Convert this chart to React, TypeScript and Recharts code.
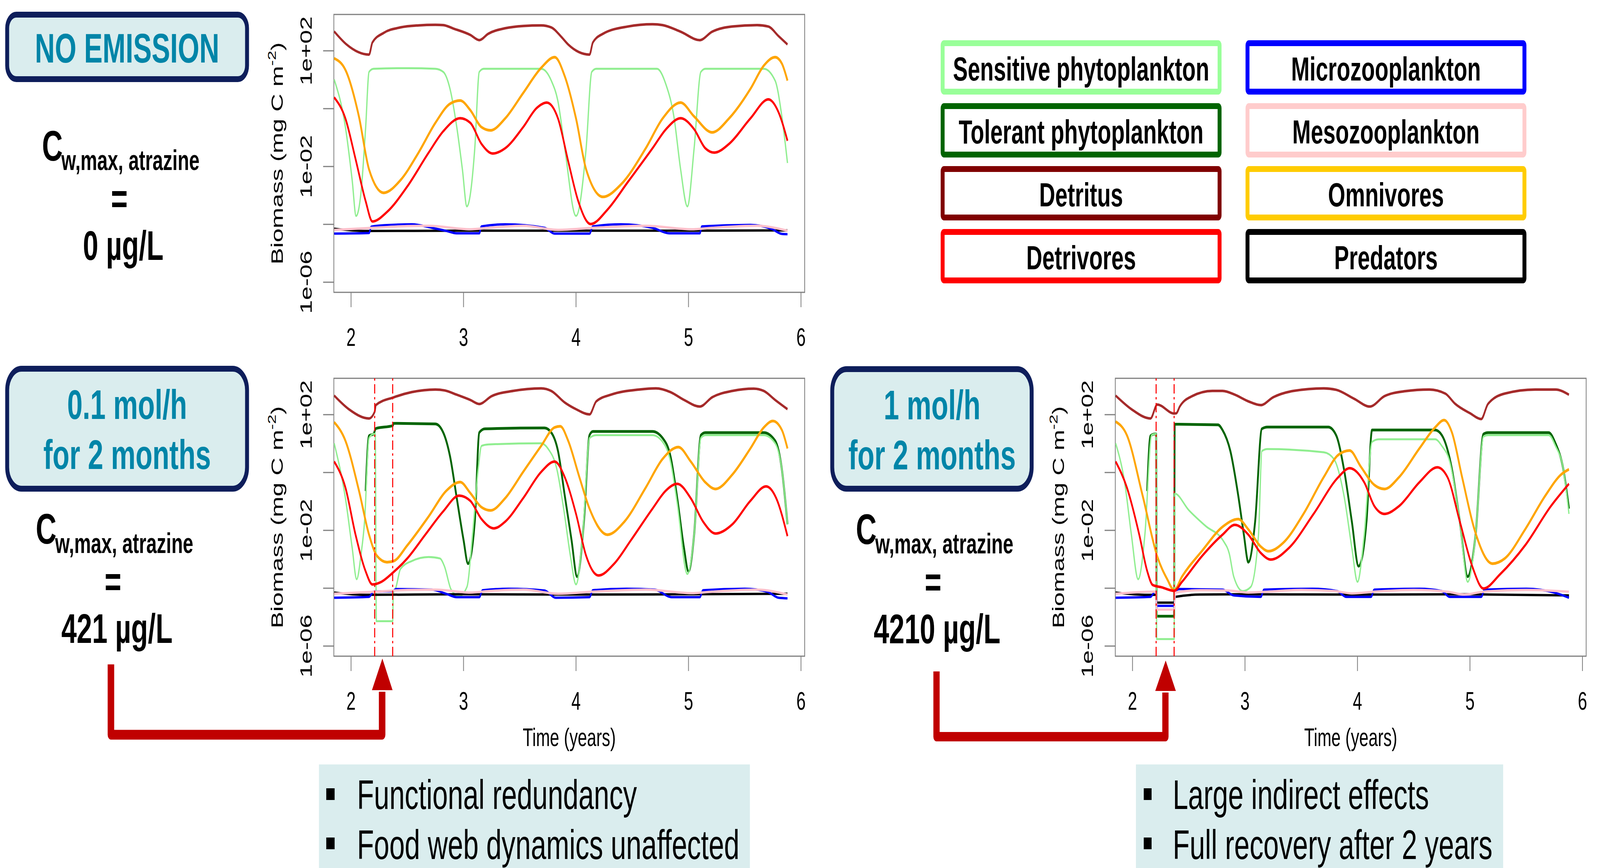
import { LineChart, Line, XAxis, YAxis, ReferenceLine, ReferenceArea } from 'recharts'

type Pt = [number, number]
type GroupKey = 'sensitive' | 'tolerant' | 'detritus' | 'detrivores' | 'microzoo' | 'mesozoo' | 'omnivores' | 'predators'

// x = time (years), y = log10 of biomass (mg C m-2)
const yearTicks = [2, 3, 4, 5, 6]
const decadeTicks = [2, 0, -2, -4, -6]
const labelledDecades = [2, -2, -6]
const exposureWindow = [2.21, 2.37]

const legendNames = ['Sensitive phytoplankton', 'Microzooplankton', 'Tolerant phytoplankton', 'Mesozooplankton', 'Detritus', 'Omnivores', 'Detrivores', 'Predators']
const legendColors = ['#99FF99', '#0000FF', '#006400', '#FFCCCC', '#800000', '#FFCC00', '#FF0000', '#000000']

// --- no emission ---
const noEmDetritus: Pt[] = [[1.85, 2.67], [1.96, 2.22], [2.16, 1.87], [2.19, 2.29], [2.29, 2.62], [2.44, 2.81], [2.6, 2.88], [2.75, 2.9], [2.82, 2.89], [2.91, 2.77], [3.06, 2.55], [3.14, 2.37], [3.22, 2.59], [3.37, 2.78], [3.53, 2.86], [3.69, 2.88], [3.78, 2.81], [3.87, 2.48], [3.93, 2.22], [4.12, 1.87], [4.15, 2.29], [4.24, 2.59], [4.46, 2.84], [4.68, 2.92], [4.77, 2.89], [4.93, 2.66], [5.1, 2.37], [5.21, 2.66], [5.39, 2.84], [5.61, 2.89], [5.71, 2.84], [5.8, 2.51], [5.88, 2.22]]
const noEmSensitive: Pt[] = [[1.85, 1.01], [1.95, -0.64], [2.01, -2.47], [2.045, -3.71], [2.09, -2.84], [2.13, -0.64], [2.16, 1.27], [2.2, 1.38], [2.5, 1.4], [2.75, 1.38], [2.82, 1.27], [2.88, 0.68], [2.94, -0.64], [2.99, -2.1], [3.03, -3.38], [3.1, -1.37], [3.14, 1.27], [3.18, 1.38], [3.69, 1.38], [3.78, 0.97], [3.84, 0.24], [3.9, -1.37], [4.0, -3.71], [4.09, -1.37], [4.14, 1.27], [4.18, 1.38], [4.72, 1.38], [4.8, 0.83], [4.87, -0.27], [4.93, -2.1], [4.99, -3.38], [5.05, -1.37], [5.11, 1.27], [5.15, 1.38], [5.67, 1.38], [5.77, 0.97], [5.83, -0.27], [5.88, -1.88]]
const noEmOmnivores: Pt[] = [[1.85, 1.74], [1.95, 1.34], [2.07, -0.27], [2.16, -2.1], [2.29, -2.91], [2.44, -2.47], [2.6, -1.52], [2.75, -0.49], [2.88, 0.17], [2.97, 0.28], [3.06, -0.05], [3.16, -0.64], [3.24, -0.75], [3.37, -0.34], [3.53, 0.54], [3.69, 1.41], [3.81, 1.78], [3.9, 1.12], [4.0, -0.34], [4.09, -2.1], [4.24, -3.05], [4.4, -2.62], [4.62, -1.37], [4.77, -0.34], [4.93, 0.21], [5.05, -0.27], [5.21, -0.82], [5.36, -0.34], [5.55, 0.68], [5.67, 1.49], [5.77, 1.78], [5.83, 1.56], [5.88, 0.97]]
const noEmDetrivores: Pt[] = [[1.85, 0.39], [1.95, -0.34], [2.04, -1.74], [2.13, -3.2], [2.19, -3.9], [2.32, -3.57], [2.5, -2.69], [2.69, -1.52], [2.82, -0.78], [2.97, -0.33], [3.06, -0.49], [3.16, -1.22], [3.26, -1.55], [3.37, -1.37], [3.53, -0.64], [3.65, 0.02], [3.74, 0.21], [3.84, -0.34], [3.93, -1.81], [4.02, -3.2], [4.13, -3.99], [4.28, -3.49], [4.46, -2.54], [4.68, -1.37], [4.8, -0.71], [4.93, -0.33], [5.05, -0.71], [5.15, -1.37], [5.23, -1.52], [5.36, -1.22], [5.55, -0.34], [5.71, 0.32], [5.8, -0.12], [5.88, -1.11]]
const noEmMicrozoo: Pt[] = [[1.85, -4.32], [2.16, -4.3], [2.18, -4.08], [2.3, -4.03], [2.54, -4.0], [2.72, -4.12], [2.85, -4.23], [2.94, -4.31], [3.14, -4.31], [3.16, -4.07], [3.37, -4.0], [3.72, -4.12], [3.81, -4.32], [4.12, -4.32], [4.15, -4.07], [4.4, -4.0], [4.68, -4.12], [4.83, -4.31], [5.1, -4.31], [5.12, -4.07], [5.55, -4.02], [5.74, -4.16], [5.83, -4.33], [5.88, -4.34]]
const noEmMesozoo: Pt[] = [[1.85, -4.19], [2.19, -4.12], [2.5, -4.06], [2.69, -4.05], [3.06, -4.17], [3.22, -4.12], [3.53, -4.05], [3.84, -4.19], [4.15, -4.12], [4.62, -4.05], [5.03, -4.17], [5.21, -4.12], [5.61, -4.05], [5.88, -4.22]]
const noEmPredators: Pt[] = [[1.85, -4.15], [2.13, -4.23], [3.0, -4.22], [4.0, -4.22], [5.0, -4.22], [5.88, -4.21]]

// --- 0.1 mol/h for 2 months ---
const lowDetritus: Pt[] = [[1.85, 2.66], [1.98, 2.19], [2.16, 1.87], [2.21, 2.1], [2.22, 2.33], [2.38, 2.6], [2.54, 2.78], [2.75, 2.87], [2.83, 2.84], [2.94, 2.69], [3.06, 2.51], [3.14, 2.37], [3.25, 2.64], [3.44, 2.82], [3.69, 2.91], [3.78, 2.82], [3.9, 2.42], [4.0, 2.19], [4.12, 2.01], [4.18, 2.46], [4.31, 2.69], [4.56, 2.87], [4.71, 2.91], [4.84, 2.78], [4.96, 2.51], [5.1, 2.28], [5.21, 2.6], [5.39, 2.82], [5.58, 2.9], [5.67, 2.82], [5.77, 2.51], [5.88, 2.19]]
const lowTolerant: Pt[] = [[2.13, -0.64], [2.16, 1.27], [2.2, 1.33], [2.22, 1.52], [2.37, 1.62], [2.38, 1.7], [2.75, 1.68], [2.82, 1.38], [2.88, 0.56], [2.94, -0.89], [3.0, -2.33], [3.04, -3.15], [3.1, -1.7], [3.14, 1.38], [3.19, 1.51], [3.72, 1.54], [3.78, 1.38], [3.84, 0.74], [3.9, -0.8], [3.96, -2.33], [4.01, -3.6], [4.07, -1.7], [4.12, 1.29], [4.15, 1.42], [4.68, 1.42], [4.77, 1.19], [4.84, 0.56], [4.9, -0.89], [4.96, -2.61], [5.0, -3.42], [5.05, -2.15], [5.11, 1.29], [5.15, 1.38], [5.67, 1.38], [5.77, 1.1], [5.83, 0.11], [5.88, -1.79]]
const lowSensitive: Pt[] = [[1.85, 1.01], [1.95, -0.89], [2.01, -2.6], [2.05, -3.69], [2.09, -2.8], [2.12, -1.7], [2.16, 1.19], [2.2, 1.33], [2.215, 1.33], [2.225, -5.14], [2.37, -5.14], [2.375, -4.2], [2.4, -3.96], [2.44, -3.33], [2.54, -3.06], [2.69, -2.92], [2.79, -2.97], [2.83, -3.24], [2.89, -4.05], [2.96, -4.28], [3.03, -3.96], [3.08, -2.15], [3.13, 0.11], [3.16, 0.92], [3.22, 0.97], [3.69, 1.01], [3.75, 0.83], [3.83, 0.11], [3.89, -1.25], [3.95, -2.88], [4.0, -3.87], [4.06, -2.15], [4.12, 1.19], [4.18, 1.29], [4.68, 1.29], [4.77, 1.06], [4.84, 0.38], [4.9, -1.07], [4.99, -3.51], [5.05, -2.15], [5.11, 1.19], [5.15, 1.29], [5.67, 1.29], [5.77, 1.01], [5.83, 0.11], [5.88, -1.79]]
const lowOmnivores: Pt[] = [[1.85, 1.74], [1.95, 1.1], [2.07, -0.62], [2.16, -2.15], [2.23, -2.88], [2.32, -3.1], [2.38, -3.06], [2.5, -2.52], [2.69, -1.52], [2.85, -0.62], [2.97, -0.33], [3.06, -0.71], [3.16, -1.2], [3.24, -1.31], [3.37, -0.89], [3.53, 0.02], [3.69, 0.92], [3.81, 1.56], [3.86, 1.6], [3.93, 1.1], [4.03, -0.16], [4.12, -1.25], [4.28, -2.15], [4.43, -1.7], [4.62, -0.52], [4.77, 0.47], [4.91, 0.88], [5.02, 0.38], [5.15, -0.34], [5.24, -0.57], [5.39, -0.07], [5.55, 0.83], [5.67, 1.56], [5.75, 1.78], [5.83, 1.47], [5.88, 0.83]]
const lowDetrivores: Pt[] = [[1.85, 0.38], [1.95, -0.52], [2.04, -2.15], [2.13, -3.42], [2.19, -3.87], [2.27, -3.78], [2.37, -3.47], [2.5, -2.97], [2.66, -2.15], [2.82, -1.34], [2.96, -0.8], [3.06, -0.98], [3.16, -1.61], [3.27, -1.93], [3.37, -1.7], [3.53, -0.89], [3.69, 0.02], [3.81, 0.38], [3.9, -0.16], [4.0, -1.43], [4.09, -2.88], [4.2, -3.56], [4.34, -3.15], [4.49, -2.33], [4.68, -1.25], [4.8, -0.62], [4.9, -0.39], [5.02, -0.89], [5.13, -1.7], [5.24, -2.11], [5.39, -1.79], [5.55, -0.98], [5.69, -0.48], [5.78, -0.89], [5.88, -2.2]]
const lowMicrozoo: Pt[] = [[1.85, -4.33], [2.16, -4.3], [2.2, -4.12], [2.37, -4.1], [2.4, -4.03], [2.72, -4.05], [2.85, -4.2], [2.94, -4.31], [3.14, -4.31], [3.17, -4.07], [3.4, -4.02], [3.72, -4.08], [3.82, -4.33], [4.12, -4.31], [4.15, -4.07], [4.45, -4.02], [4.7, -4.05], [4.85, -4.31], [5.1, -4.31], [5.13, -4.07], [5.5, -4.02], [5.7, -4.12], [5.8, -4.33], [5.88, -4.35]]
const lowMesozoo: Pt[] = [[1.85, -4.19], [2.22, -4.12], [2.5, -4.06], [2.75, -4.05], [3.06, -4.15], [3.22, -4.1], [3.53, -4.05], [3.84, -4.19], [4.15, -4.12], [4.62, -4.05], [5.03, -4.17], [5.21, -4.12], [5.61, -4.05], [5.88, -4.22]]
const lowPredators: Pt[] = [[1.85, -4.15], [2.13, -4.23], [3.0, -4.21], [4.0, -4.22], [5.0, -4.21], [5.88, -4.19]]

// --- 1 mol/h for 2 months ---
const highDetritus: Pt[] = [[1.85, 2.66], [1.99, 2.19], [2.16, 1.87], [2.22, 2.35], [2.37, 2.04], [2.39, 2.05], [2.42, 2.28], [2.53, 2.64], [2.71, 2.82], [2.8, 2.82], [2.91, 2.69], [3.03, 2.46], [3.14, 2.33], [3.25, 2.6], [3.43, 2.82], [3.7, 2.91], [3.81, 2.86], [3.97, 2.55], [4.11, 2.28], [4.24, 2.64], [4.42, 2.81], [4.64, 2.87], [4.78, 2.73], [4.87, 2.37], [5.0, 2.05], [5.1, 1.85], [5.16, 2.37], [5.31, 2.73], [5.58, 2.87], [5.76, 2.87], [5.88, 2.69]]
const highTolerant: Pt[] = [[2.13, -0.64], [2.16, 1.27], [2.2, 1.33], [2.21, 1.33], [2.215, -4.97], [2.37, -4.97], [2.375, 1.67], [2.76, 1.65], [2.8, 1.47], [2.87, 0.74], [2.94, -0.8], [2.99, -2.15], [3.03, -3.1], [3.09, -1.7], [3.15, 1.51], [3.2, 1.57], [3.74, 1.57], [3.81, 1.29], [3.88, 0.11], [3.95, -1.7], [4.01, -3.24], [4.08, -1.7], [4.13, 1.47], [4.69, 1.47], [4.75, 1.29], [4.84, 0.11], [4.91, -1.7], [4.98, -3.6], [5.05, -2.15], [5.12, 1.33], [5.16, 1.38], [5.7, 1.38], [5.76, 1.01], [5.83, 0.11], [5.88, -1.25]]
const highSensitive: Pt[] = [[1.85, 1.01], [1.93, -0.34], [1.99, -2.15], [2.05, -3.69], [2.11, -2.15], [2.17, 1.29], [2.2, 1.33], [2.21, 1.33], [2.215, -5.76], [2.37, -5.76], [2.375, -0.73], [2.5, -1.3], [2.65, -1.85], [2.81, -2.38], [2.86, -2.8], [2.9, -3.6], [2.98, -4.1], [3.05, -3.96], [3.12, -2.15], [3.15, 0.74], [3.2, 0.81], [3.7, 0.7], [3.79, 0.47], [3.88, -0.8], [3.95, -2.61], [4.0, -3.78], [4.06, -2.15], [4.13, 1.06], [4.19, 1.15], [4.69, 1.15], [4.75, 0.92], [4.82, 0.38], [4.91, -1.7], [4.98, -3.78], [5.05, -2.15], [5.12, 1.24], [5.16, 1.29], [5.7, 1.29], [5.76, 0.92], [5.83, 0.11], [5.88, -1.43]]
const highOmnivores: Pt[] = [[1.85, 1.76], [1.95, 1.29], [2.09, -0.8], [2.22, -2.9], [2.31, -3.7], [2.37, -4.07], [2.44, -3.6], [2.62, -2.7], [2.8, -1.88], [2.94, -1.61], [3.03, -1.97], [3.14, -2.56], [3.21, -2.72], [3.34, -2.43], [3.52, -1.43], [3.7, -0.16], [3.83, 0.61], [3.93, 0.76], [4.03, 0.2], [4.15, -0.43], [4.24, -0.57], [4.37, -0.16], [4.55, 0.83], [4.69, 1.56], [4.77, 1.81], [4.84, 1.38], [4.93, -0.16], [5.04, -1.97], [5.2, -3.15], [5.31, -2.97], [5.49, -1.97], [5.67, -0.8], [5.81, -0.07], [5.88, 0.11]]
const highDetrivores: Pt[] = [[1.85, 0.38], [1.95, -0.52], [2.06, -2.15], [2.13, -3.4], [2.18, -3.89], [2.26, -3.97], [2.37, -4.09], [2.44, -3.78], [2.62, -2.88], [2.8, -2.15], [2.91, -1.81], [3.03, -2.15], [3.14, -2.78], [3.23, -3.01], [3.39, -2.61], [3.61, -1.43], [3.83, -0.16], [3.93, 0.15], [4.06, -0.34], [4.15, -1.16], [4.24, -1.43], [4.37, -1.16], [4.55, -0.34], [4.71, 0.18], [4.8, -0.16], [4.91, -1.7], [5.02, -3.24], [5.12, -4.01], [5.27, -3.51], [5.49, -2.52], [5.72, -1.16], [5.88, -0.39]]
const highMicrozoo: Pt[] = [[1.85, -4.33], [2.16, -4.3], [2.2, -4.12], [2.21, -4.12], [2.215, -4.61], [2.37, -4.61], [2.38, -4.1], [2.42, -4.03], [2.8, -4.05], [2.9, -4.25], [3.14, -4.3], [3.17, -4.05], [3.6, -4.02], [3.82, -4.1], [3.9, -4.3], [4.12, -4.3], [4.15, -4.05], [4.55, -4.02], [4.75, -4.1], [4.82, -4.3], [5.1, -4.3], [5.13, -4.05], [5.5, -4.02], [5.75, -4.15], [5.88, -4.33]]
const highMesozoo: Pt[] = [[1.85, -4.19], [2.2, -4.12], [2.21, -4.12], [2.215, -4.74], [2.37, -4.74], [2.38, -4.15], [2.6, -4.07], [2.85, -4.08], [3.03, -4.15], [3.2, -4.12], [3.5, -4.06], [3.8, -4.1], [3.95, -4.18], [4.15, -4.12], [4.5, -4.06], [4.8, -4.12], [4.95, -4.22], [5.12, -4.12], [5.5, -4.06], [5.88, -4.12]]
const highPredators: Pt[] = [[1.85, -4.15], [2.13, -4.23], [2.21, -4.23], [2.215, -4.5], [2.37, -4.5], [2.38, -4.3], [2.6, -4.22], [3.0, -4.21], [4.0, -4.22], [5.0, -4.21], [5.88, -4.25]]

const font = '"Liberation Sans", Arial, sans-serif'
const frameGray = '#7f7f7f'
const teal = '#0085A8'
const navy = '#0E1E5B'
const paleBlue = '#DAEDEE'
const arrowRed = '#C00000'

const xDomain: [number, number] = [1.847, 6.033]
const yDomain: [number, number] = [-6.35, 3.257]

const lineStyle: Record<GroupKey, { color: string; width: number }> = {
  detritus: { color: '#A52A2A', width: 6.5 },
  tolerant: { color: '#006400', width: 7 },
  sensitive: { color: '#90EE90', width: 5 },
  predators: { color: '#000000', width: 6 },
  microzoo: { color: '#0000FF', width: 6 },
  mesozoo: { color: '#FFC0CB', width: 6 },
  omnivores: { color: '#FFA500', width: 7 },
  detrivores: { color: '#FF0000', width: 6.5 },
}
const drawOrder: GroupKey[] = ['detritus', 'tolerant', 'sensitive', 'predators', 'microzoo', 'mesozoo', 'omnivores', 'detrivores']

const noEmission: Partial<Record<GroupKey, Pt[]>> = {
  detritus: noEmDetritus, sensitive: noEmSensitive, omnivores: noEmOmnivores, detrivores: noEmDetrivores,
  microzoo: noEmMicrozoo, mesozoo: noEmMesozoo, predators: noEmPredators,
}
const lowEmission: Partial<Record<GroupKey, Pt[]>> = {
  detritus: lowDetritus, tolerant: lowTolerant, sensitive: lowSensitive, omnivores: lowOmnivores,
  detrivores: lowDetrivores, microzoo: lowMicrozoo, mesozoo: lowMesozoo, predators: lowPredators,
}
const highEmission: Partial<Record<GroupKey, Pt[]>> = {
  detritus: highDetritus, tolerant: highTolerant, sensitive: highSensitive, omnivores: highOmnivores,
  detrivores: highDetrivores, microzoo: highMicrozoo, mesozoo: highMesozoo, predators: highPredators,
}

const toRows = (pts: Pt[]) => pts.map(([x, y]) => ({ x, y }))

function DecadeTick({ x, y, payload }: any) {
  if (!labelledDecades.includes(payload.value)) return <g />
  const v = payload.value
  const label = `1e${v >= 0 ? '+' : '-'}${String(Math.abs(v)).padStart(2, '0')}`
  return (
    <text x={x} y={y} transform={`rotate(-90 ${x} ${y})`} textAnchor="middle" fontSize={63} fontFamily={font} fill="#000">
      {label}
    </text>
  )
}

function BiomassTitle({ viewBox }: any) {
  const bx = viewBox.x + viewBox.width - 196
  const cy = viewBox.y + viewBox.height / 2
  return (
    <text x={bx} y={cy} transform={`rotate(-90 ${bx} ${cy})`} textAnchor="middle" fontSize={64} fontFamily={font} fill="#000">
      Biomass (mg C m<tspan dy={-26} fontSize={44}>-2</tspan><tspan dy={26}>)</tspan>
    </text>
  )
}

function BiomassPanel({ left, top, height, plotTop, groups, exposure, title }: {
  left: number; top: number; height: number; plotTop: number
  groups: Partial<Record<GroupKey, Pt[]>>; exposure?: boolean; title?: boolean
}) {
  const plotBottom = plotTop + 711
  return (
    <div style={{ position: 'absolute', left, top }}>
      <LineChart width={2130} height={height} margin={{ top: plotTop, right: 47, bottom: 0, left: 0 }}>
        <XAxis
          type="number"
          dataKey="x"
          domain={xDomain}
          ticks={yearTicks}
          interval={0}
          allowDataOverflow
          height={height - plotBottom}
          tickSize={38}
          tickMargin={54}
          axisLine={false}
          stroke={frameGray}
          tickLine={{ strokeWidth: 3 }}
          tick={{ fontSize: 64, fill: '#000', fontFamily: font }}
          label={title ? { value: 'Time (years)', position: 'insideTop', offset: 185, fontSize: 64, fill: '#000', fontFamily: font } : undefined}
        />
        <YAxis
          type="number"
          domain={yDomain}
          ticks={decadeTicks}
          interval={0}
          allowDataOverflow
          width={279}
          tickSize={41}
          tickMargin={44}
          axisLine={false}
          stroke={frameGray}
          tickLine={{ strokeWidth: 3 }}
          tick={<DecadeTick />}
          label={<BiomassTitle />}
        />
        <ReferenceArea x1={xDomain[0]} x2={xDomain[1]} y1={yDomain[0]} y2={yDomain[1]} fill="none" stroke={frameGray} strokeWidth={3} ifOverflow="visible" />
        {drawOrder.filter(k => groups[k]).map(k => (
          <Line
            key={k}
            data={toRows(groups[k]!)}
            dataKey="y"
            type="monotone"
            stroke={lineStyle[k].color}
            strokeWidth={lineStyle[k].width}
            dot={false}
            isAnimationActive={false}
          />
        ))}
        {exposure && exposureWindow.map(t => (
          <ReferenceLine key={t} x={t} stroke="#FF0000" strokeWidth={4} strokeDasharray="24 9 6 9" />
        ))}
      </LineChart>
    </div>
  )
}

function Concentration({ cx, y, value }: { cx: number; y: number; value: string }) {
  const cLeft = cx - 297
  return (
    <g fontFamily={font} fontWeight="bold" fill="#000">
      <text x={cLeft} y={y} fontSize={110}>C</text>
      <text x={cLeft + 74} y={y + 24} fontSize={72}>w,max, atrazine</text>
      <text x={cx - 1} y={y + 135} fontSize={110} textAnchor="middle">=</text>
      <text x={cx + 14} y={y + 254} fontSize={106} textAnchor="middle">{value}</text>
    </g>
  )
}

function Annotations() {
  return (
    <svg width={6130} height={2221} style={{ position: 'absolute', left: 0, top: 0 }} fontFamily={font}>
      {/* scenario boxes */}
      <rect x={27.5} y={37.5} width={919} height={165} rx={35} fill={paleBlue} stroke={navy} strokeWidth={15} />
      <text x={487} y={160} textAnchor="middle" fontSize={106} fontWeight="bold" fill={teal}>NO EMISSION</text>
      <Concentration cx={458} y={411} value="0 µg/L" />

      <rect x={27.5} y={943.5} width={919} height={307} rx={55} fill={paleBlue} stroke={navy} strokeWidth={15} />
      <text x={487} y={1072} textAnchor="middle" fontSize={106} fontWeight="bold" fill={teal}>0.1 mol/h</text>
      <text x={487} y={1200} textAnchor="middle" fontSize={106} fontWeight="bold" fill={teal}>for 2 months</text>
      <Concentration cx={434} y={1391} value="421 µg/L" />

      <rect x={3188.5} y={944.5} width={764} height={306} rx={55} fill={paleBlue} stroke={navy} strokeWidth={15} />
      <text x={3571} y={1073} textAnchor="middle" fontSize={106} fontWeight="bold" fill={teal}>1 mol/h</text>
      <text x={3571} y={1201} textAnchor="middle" fontSize={106} fontWeight="bold" fill={teal}>for 2 months</text>
      <Concentration cx={3576} y={1392} value="4210 µg/L" />

      {/* arrows pointing at the emission window */}
      <polyline points="425,1700 425,1880 1464,1880 1464,1770" fill="none" stroke={arrowRed} strokeWidth={25} strokeLinejoin="round" />
      <polygon points="1425,1766 1504,1766 1465,1685" fill={arrowRed} />
      <polyline points="3588,1718 3588,1885 4465,1885 4465,1772" fill="none" stroke={arrowRed} strokeWidth={24} strokeLinejoin="round" />
      <polygon points="4426,1768 4505,1768 4466,1690" fill={arrowRed} />

      {/* legend */}
      {legendNames.map((name, i) => {
        const x = i % 2 === 0 ? 3604 : 4772
        const y = 103 + Math.floor(i / 2) * 161
        return (
          <g key={name}>
            <rect x={x + 7.5} y={y + 7.5} width={1061} height={124} rx={5} fill="#fff" stroke={legendColors[i]} strokeWidth={15} />
            <text x={x + 538} y={y + 103} textAnchor="middle" fontSize={85} fontWeight="bold" fill="#000">{name}</text>
          </g>
        )
      })}

      {/* conclusions */}
      <rect x={1222} y={1956} width={1651} height={265} fill={paleBlue} />
      <rect x={1250} y={2017} width={32} height={30} fill="#000" />
      <rect x={1250} y={2143} width={32} height={30} fill="#000" />
      <text x={1368} y={2070} fontSize={106} fill="#000">Functional redundancy</text>
      <text x={1368} y={2198} fontSize={106} fill="#000">Food web dynamics unaffected</text>

      <rect x={4352} y={1956} width={1407} height={265} fill={paleBlue} />
      <rect x={4382} y={2017} width={30} height={30} fill="#000" />
      <rect x={4382} y={2143} width={30} height={30} fill="#000" />
      <text x={4493} y={2070} fontSize={106} fill="#000">Large indirect effects</text>
      <text x={4493} y={2198} fontSize={106} fill="#000">Full recovery after 2 years</text>
    </svg>
  )
}

export default function App() {
  // the window may be narrower than the 6130 px figure, so fit the whole figure into it
  const sx = window.innerWidth / 6130
  const sy = window.innerHeight / 2221
  return (
    <div style={{ position: 'fixed', left: 0, top: 0, width: window.innerWidth, height: window.innerHeight, overflow: 'hidden', background: '#fff' }}>
      <div style={{ position: 'absolute', left: 0, top: 0, width: 6130, height: 2221, transform: `scale(${sx}, ${sy})`, transformOrigin: '0 0' }}>
        <Annotations />
        <BiomassPanel left={1000} top={0} height={950} plotTop={37} groups={noEmission} />
        <BiomassPanel left={1000} top={900} height={1100} plotTop={68} groups={lowEmission} exposure title />
        <BiomassPanel left={3994} top={900} height={1100} plotTop={68} groups={highEmission} exposure title />
      </div>
    </div>
  )
}
